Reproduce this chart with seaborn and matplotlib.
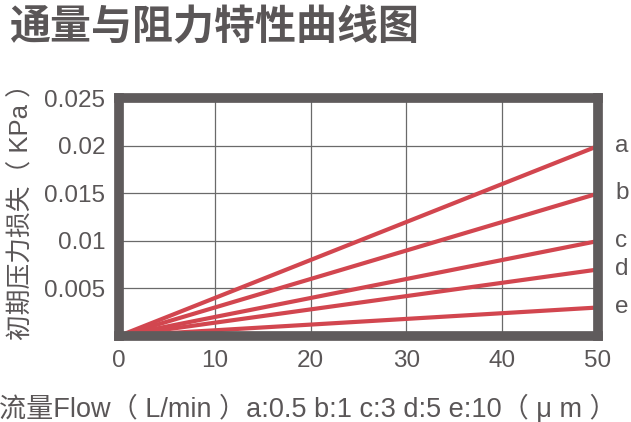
import pandas as pd
import numpy as np
import matplotlib.pyplot as plt
import seaborn as sns

# flow (L/min) vs initial pressure loss (KPa)
flow = [0, 50]
labels = ['a', 'b', 'c', 'd', 'e']
loss_end = [0.02, 0.015, 0.01, 0.007, 0.003]
xticks = [0, 10, 20, 30, 40, 50]
yticks = [0.005, 0.01, 0.015, 0.02, 0.025]
ytick_labels = ['0.005', '0.01', '0.015', '0.02', '0.025']

rows = []
for lab, end in zip(labels, loss_end):
    rows.append({'flow': flow[0], 'loss': 0.0, 'grade': lab})
    rows.append({'flow': flow[1], 'loss': end, 'grade': lab})
df = pd.DataFrame(rows)

sns.set_style('white')
plt.rcParams['font.family'] = ['Liberation Sans', 'Noto Sans CJK SC', 'DejaVu Sans']

txt = '#5a5657'
red = '#d2464f'
frame = '#5f5b5c'

fig = plt.figure(figsize=(6.31, 4.22), dpi=100)
ax = fig.add_axes([0.1886, 0.2038, 0.7591, 0.5628])

sns.lineplot(data=df, x='flow', y='loss', hue='grade',
             palette=[red] * len(labels), linewidth=3, legend=False,
             ax=ax, zorder=3, solid_capstyle='butt')

ax.set_xlim(0, 50)
ax.set_ylim(0, 0.025)
ax.set_xticks(xticks)
ax.set_yticks(yticks)
ax.set_yticklabels(ytick_labels)
ax.grid(True, color='#6a6a6a', linewidth=0.9)
ax.set_axisbelow(True)
ax.tick_params(length=0, labelsize=17.5, labelcolor=txt, pad=10)
for s in ax.spines.values():
    s.set_color(frame)
    s.set_linewidth(7)
    s.set_zorder(4)

for lab, end in zip(labels, loss_end):
    ax.text(51.8, end, lab, fontsize=17.5, color=txt, va='center',
            ha='left', clip_on=False)

ax.set_xlabel('')
ax.set_ylabel('')

fig.text(0.034, 0.512, '初期压力损失（ KPa ）', fontsize=18.5, color=txt,
         rotation=90, ha='center', va='center')

fig.text(0.488, 0.033, '流量Flow（ L/min ）a:0.5 b:1 c:3 d:5 e:10（ μ m ）',
         fontsize=19.5, color=txt, ha='center', va='center')

fig.text(0.016, 0.985, '通量与阻力特性曲线图', fontsize=29.5, fontweight='bold',
         color=txt, family=['Noto Sans CJK SC'], ha='left', va='top')

fig.savefig('out.png', dpi=100)
